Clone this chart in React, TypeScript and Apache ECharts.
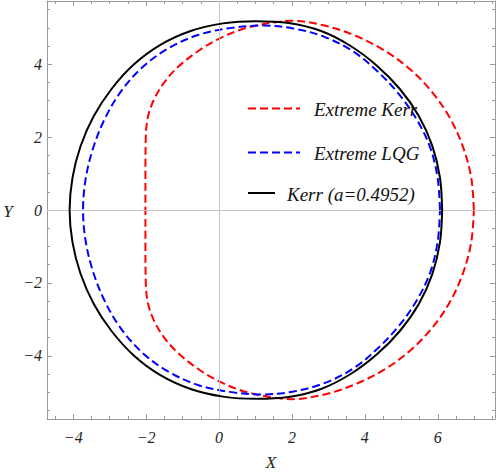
import React, { useEffect, useRef } from "react";
import * as echarts from "echarts";

const seriesNames = ["Extreme Kerr", "Extreme LQG", "Kerr (a=0.4952)"];
const seriesColors = ["#ff0000", "#0000ff", "#000000"];

// Extreme Kerr shadow (closed loop)
const extremeKerrX = [
  6.99, 6.92, 6.7, 6.34, 5.85, 5.24, 4.53, 3.74, 2.89, 2.0, 1.45, 0.94, 0.57, 0.02, -0.53, -1.12, -1.52, -1.79, -1.95, -2.01, -2.02, -2.02,
  -2.02, -2.01, -1.95, -1.79, -1.52, -1.12, -0.53, 0.02, 0.57, 0.94, 1.45, 2.0, 2.89, 3.74, 4.53, 5.24, 5.85, 6.34, 6.7, 6.92, 6.99,
];
const extremeKerrY = [
  0, 0.87, 1.71, 2.51, 3.23, 3.86, 4.38, 4.78, 5.06, 5.19, 5.14, 5.04, 4.94, 4.71, 4.39, 3.93, 3.48, 3.02, 2.56, 2, 1, 0,
  -1, -2, -2.56, -3.02, -3.48, -3.93, -4.39, -4.71, -4.94, -5.04, -5.14, -5.19, -5.06, -4.78, -4.38, -3.86, -3.23, -2.51, -1.71, -0.87, 0,
];

// Extreme LQG shadow (closed loop)
const extremeLqgX = [
  6.06, 6.0, 5.8, 5.43, 4.94, 4.35, 3.68, 2.89, 2.04, 1.17, 0.29, -0.58, -1.4, -2.11, -2.7, -3.14, -3.46, -3.66, -3.73,
  -3.66, -3.46, -3.14, -2.7, -2.11, -1.4, -0.58, 0.29, 1.17, 2.04, 2.89, 3.68, 4.35, 4.94, 5.43, 5.8, 6.0, 6.06,
];
const extremeLqgY = [
  0, 0.85, 1.69, 2.47, 3.17, 3.8, 4.35, 4.75, 4.98, 5.06, 4.99, 4.8, 4.43, 3.91, 3.24, 2.49, 1.68, 0.85, 0,
  -0.85, -1.68, -2.49, -3.24, -3.91, -4.43, -4.8, -4.99, -5.06, -4.98, -4.75, -4.35, -3.8, -3.17, -2.47, -1.69, -0.85, 0,
];

// Kerr a=0.4952 shadow (closed loop)
const kerrX = [
  6.12, 6.06, 5.85, 5.48, 4.96, 4.33, 3.61, 2.8, 1.91, 1.01, 0.11, -0.78, -1.61, -2.34, -2.95, -3.44, -3.8, -4.02, -4.1,
  -4.02, -3.8, -3.44, -2.95, -2.34, -1.61, -0.78, 0.11, 1.01, 1.91, 2.8, 3.61, 4.33, 4.96, 5.48, 5.85, 6.06, 6.12,
];
const kerrY = [
  0, 0.89, 1.76, 2.58, 3.32, 3.96, 4.5, 4.91, 5.13, 5.18, 5.12, 4.91, 4.53, 3.99, 3.32, 2.57, 1.75, 0.89, 0,
  -0.89, -1.75, -2.57, -3.32, -3.99, -4.53, -4.91, -5.12, -5.18, -5.13, -4.91, -4.5, -3.96, -3.32, -2.58, -1.76, -0.89, 0,
];

const xMajorTicks = [-4, -2, 0, 2, 4, 6];
const yMajorTicks = [-4, -2, 0, 2, 4];
const xMinorTicks = [-4.5, -4, -3.5, -3, -2.5, -2, -1.5, -1, -0.5, 0, 0.5, 1, 1.5, 2, 2.5, 3, 3.5, 4, 4.5, 5, 5.5, 6, 6.5, 7, 7.5];
const yMinorTicks = [-5.5, -5, -4.5, -4, -3.5, -3, -2.5, -2, -1.5, -1, -0.5, 0, 0.5, 1, 1.5, 2, 2.5, 3, 3.5, 4, 4.5, 5, 5.5];
const axisTitles = ["X", "Y"];

const X_MIN = -4.72;
const X_MAX = 7.57;
const Y_MIN = -5.734;
const Y_MAX = 5.734;

const FRAME = "#9a9a9a";
const SERIF = "'Liberation Serif', 'Times New Roman', serif";

const zip = (xs: number[], ys: number[]) => xs.map((x, i) => [x, ys[i]]);
const fmt = (v: number) => (v < 0 ? "\u2212" + Math.abs(v) : String(v));

export default function App() {
  const ref = useRef<HTMLDivElement>(null);
  useEffect(() => {
    if (!ref.current) return;
    const chart = echarts.init(ref.current, undefined, { renderer: "svg" });

    const labelStyle = {
      fontSize: 16,
      fontFamily: SERIF,
      fontStyle: "italic" as const,
      color: "#222",
      formatter: (v: number) => fmt(v),
    };

    const mkX = (position: "top" | "bottom", major: boolean, labels: boolean) => ({
      type: "value",
      position,
      min: X_MIN,
      max: X_MAX,
      axisLine: { show: major, onZero: false, lineStyle: { color: FRAME, width: 1 } },
      axisTick: {
        show: true,
        inside: true,
        length: major ? 5 : 3,
        customValues: major ? xMajorTicks : xMinorTicks,
        lineStyle: { color: FRAME, width: 1 },
      },
      axisLabel: labels
        ? { show: true, customValues: xMajorTicks, margin: 10, ...labelStyle }
        : { show: false },
      splitLine: { show: false },
    });
    const mkY = (position: "left" | "right", major: boolean, labels: boolean) => ({
      type: "value",
      position,
      min: Y_MIN,
      max: Y_MAX,
      axisLine: { show: major, onZero: false, lineStyle: { color: FRAME, width: 1 } },
      axisTick: {
        show: true,
        inside: true,
        length: major ? 5 : 3,
        customValues: major ? yMajorTicks : yMinorTicks,
        lineStyle: { color: FRAME, width: 1 },
      },
      axisLabel: labels
        ? { show: true, customValues: yMajorTicks, margin: 5, ...labelStyle }
        : { show: false },
      splitLine: { show: false },
    });

    const curves = [
      zip(extremeKerrX, extremeKerrY),
      zip(extremeLqgX, extremeLqgY),
      zip(kerrX, kerrY),
    ];

    const legendY = [108.5, 152.5, 193];
    const legendLineEnd = [300, 300, 275];
    const legendTextX = [314, 314, 287];

    const graphic: any[] = [];
    seriesNames.forEach((name, i) => {
      graphic.push({
        type: "line",
        z: 100,
        shape: { x1: 248, y1: legendY[i], x2: legendLineEnd[i], y2: legendY[i] },
        style: {
          stroke: seriesColors[i],
          lineWidth: 2,
          lineDash: i < 2 ? [8, 4] : null,
        },
      });
      graphic.push({
        type: "text",
        z: 100,
        x: legendTextX[i],
        y: legendY[i] + 1,
        style: {
          text: name,
          fontSize: 19,
          fontFamily: SERIF,
          fontStyle: "italic",
          fill: "#111",
          align: "left",
          verticalAlign: "middle",
        },
      });
    });
    graphic.push({
      type: "text",
      x: 271,
      y: 462,
      style: { text: axisTitles[0], fontSize: 17, fontFamily: SERIF, fontStyle: "italic", fill: "#222", align: "center", verticalAlign: "middle" },
    });
    graphic.push({
      type: "text",
      x: 8,
      y: 211,
      style: { text: axisTitles[1], fontSize: 17, fontFamily: SERIF, fontStyle: "italic", fill: "#222", align: "center", verticalAlign: "middle" },
    });

    chart.setOption({
      animation: false,
      grid: { left: 47, right: 3, top: 1, bottom: 56, containLabel: false },
      xAxis: [mkX("bottom", true, true), mkX("bottom", false, false), mkX("top", true, false), mkX("top", false, false)],
      yAxis: [mkY("left", true, true), mkY("left", false, false), mkY("right", true, false), mkY("right", false, false)],
      series: [
        {
          type: "line",
          name: "axes",
          data: [],
          silent: true,
          z: 1,
          markLine: {
            silent: true,
            symbol: "none",
            label: { show: false },
            lineStyle: { color: "#c4c4c4", type: "solid", width: 1 },
            data: [{ xAxis: 0 }, { yAxis: 0 }],
          },
        },
        ...curves.map((data, i) => ({
          type: "line",
          name: seriesNames[i],
          data,
          showSymbol: false,
          symbol: "none",
          smooth: 0.35,
          z: 3 + i,
          lineStyle: {
            color: seriesColors[i],
            width: 2,
            type: i < 2 ? [8, 4] : "solid",
          },
        })),
      ],
      graphic,
    });
    return () => chart.dispose();
  }, []);
  return (
    <div
      ref={ref}
      style={{ position: "absolute", left: 0, top: 0, width: 498, height: 475, background: "#fff" }}
    />
  );
}
